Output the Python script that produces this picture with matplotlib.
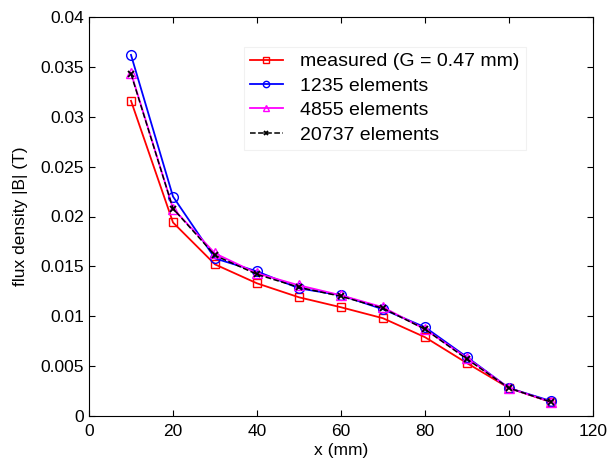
import matplotlib
matplotlib.use("Agg")
import matplotlib.pyplot as plt

plt.rcParams['font.family'] = ['Liberation Sans', 'DejaVu Sans']

x = [10, 20, 30, 40, 50, 60, 70, 80, 90, 100, 110]
measured = [0.0316, 0.0194, 0.0152, 0.0133, 0.0119, 0.0109, 0.0098, 0.0079, 0.0053, 0.0028, 0.0014]
e1235 = [0.0362, 0.0220, 0.0158, 0.0145, 0.0128, 0.0121, 0.0107, 0.0089, 0.0059, 0.0028, 0.0015]
e4855 = [0.0344, 0.0208, 0.0163, 0.0143, 0.0131, 0.0121, 0.0109, 0.0087, 0.0058, 0.0028, 0.0014]
e20737 = [0.0343, 0.0208, 0.0161, 0.0142, 0.0129, 0.0120, 0.0108, 0.0087, 0.0057, 0.0028, 0.0014]
labels = ['measured (G = 0.47 mm)', '1235 elements', '4855 elements', '20737 elements']

fig = plt.figure(figsize=(6.12, 4.63), dpi=100)
ax = fig.add_axes([89/612, 1-416/463, (593-89)/612, (416-17)/463])

ax.plot(x, measured, color='red', marker='s', ms=6, mfc='none', mew=1.0, lw=1.3, label=labels[0])
ax.plot(x, e1235, color='blue', marker='o', ms=7, mfc='none', mew=1.0, lw=1.3, label=labels[1])
ax.plot(x, e4855, color='magenta', marker='^', ms=7, mfc='none', mew=1.0, lw=1.3, label=labels[2])
ax.plot(x, e20737, color='black', marker='x', ms=4, mew=1.3, lw=1.1, ls='--', label=labels[3])

ax.set_xlim(0, 120)
ax.set_ylim(0, 0.04)
ax.set_xticks(range(0, 121, 20))
ax.set_yticks([0, 0.005, 0.01, 0.015, 0.02, 0.025, 0.03, 0.035, 0.04])
ax.set_yticklabels(['0', '0.005', '0.01', '0.015', '0.02', '0.025', '0.03', '0.035', '0.04'])
ax.tick_params(direction='in', top=True, right=True, labelsize=12.5, length=4)
ax.tick_params(axis='x', pad=6)
ax.tick_params(axis='y', pad=3.5)
ax.set_xlabel('x (mm)', fontsize=12.5, labelpad=3)
ax.set_ylabel('flux density |B| (T)', fontsize=12.5, labelpad=9)

leg = ax.legend(loc='upper left', bbox_to_anchor=((244-89)/504, (416-47)/399), fontsize=14,
                frameon=True, fancybox=False, edgecolor='#eeeeee', handlelength=1.7,
                borderpad=0.3, labelspacing=0.35, handletextpad=0.9, markerscale=0.65,
                borderaxespad=0)
leg.get_frame().set_linewidth(0.8)

fig.savefig('out.png', dpi=100)
